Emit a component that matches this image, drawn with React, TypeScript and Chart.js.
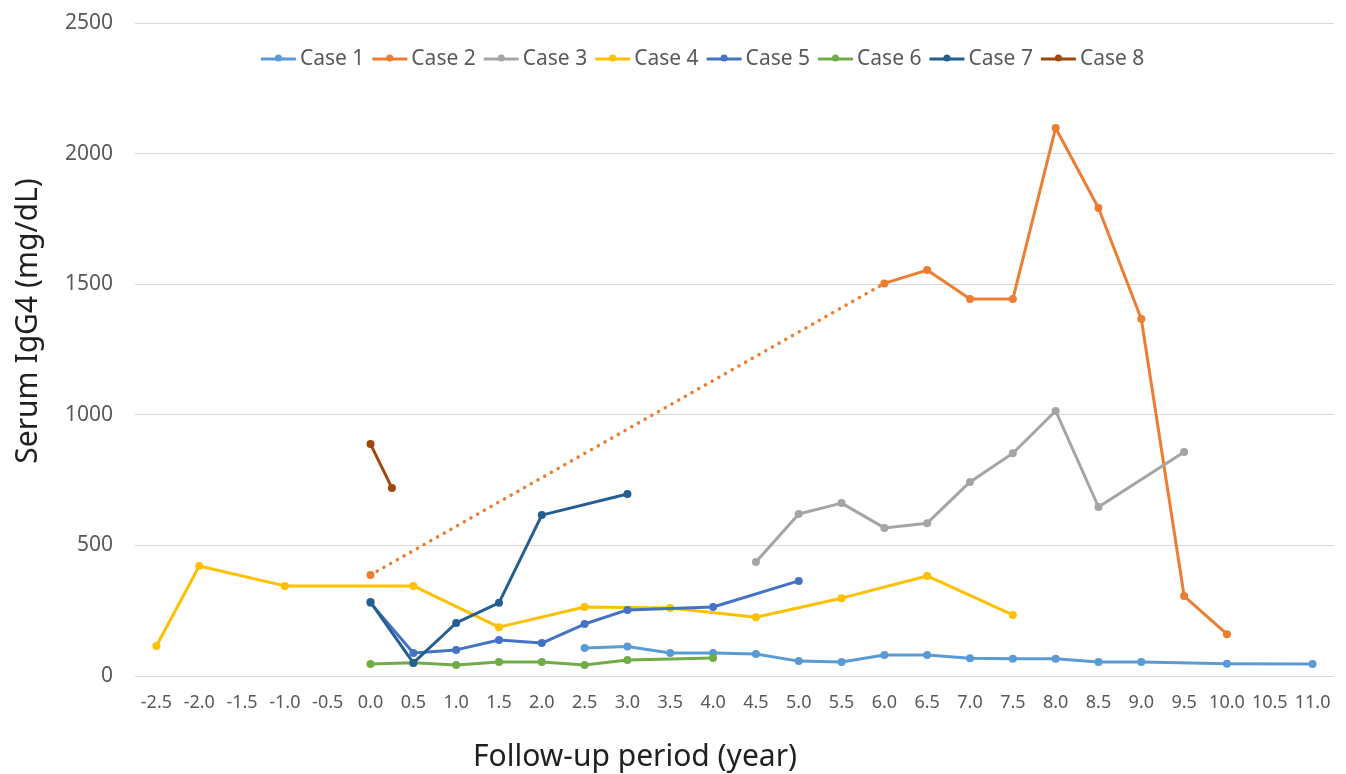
import React, { useEffect, useRef } from "react";
import { Chart, registerables } from "chart.js";

Chart.register(...registerables);

const years: number[] = [
  -2.5, -2.0, -1.5, -1.0, -0.5, 0.0, 0.5, 1.0, 1.5, 2.0, 2.5, 3.0, 3.5, 4.0,
  4.5, 5.0, 5.5, 6.0, 6.5, 7.0, 7.5, 8.0, 8.5, 9.0, 9.5, 10.0, 10.5, 11.0,
];

type V = number | null;
//                     -2.5 -2.0 -1.5 -1.0 -0.5  0.0  0.5  1.0  1.5  2.0  2.5  3.0  3.5  4.0  4.5  5.0  5.5  6.0  6.5  7.0  7.5  8.0  8.5  9.0  9.5 10.0 10.5 11.0
const case1: V[] = [null, null, null, null, null, null, null, null, null, null, 107, 113, 88, 88, 84, 57, 54, 80, 80, 68, 66, 66, 54, 54, null, 47, null, 46];
const case2: V[] = [null, null, null, null, null, 387, null, null, null, null, null, null, null, null, null, null, null, 1503, 1554, 1443, 1443, 2098, 1792, 1367, 306, 160, null, null];
const case3: V[] = [null, null, null, null, null, null, null, null, null, null, null, null, null, null, 436, 620, 662, 567, 585, 743, 853, 1015, 647, null, 858, null, null, null];
const case4: V[] = [115, 421, null, 345, null, null, 345, null, 187, null, 264, null, 260, null, 225, null, 298, null, 383, null, 234, null, null, null, null, null, null, null];
const case5: V[] = [null, null, null, null, null, 280, 88, 100, 138, 126, 199, 253, null, 264, null, 364, null, null, null, null, null, null, null, null, null, null, null, null];
const case6: V[] = [null, null, null, null, null, 46, 51, 42, 54, 54, 42, 61, null, 69, null, null, null, null, null, null, null, null, null, null, null, null, null, null];
const case7: V[] = [null, null, null, null, null, 283, 50, 203, 280, 616, null, 697, null, null, null, null, null, null, null, null, null, null, null, null, null, null, null, null];
const case8Years: number[] = [0.0, 0.25];
const case8: number[] = [888, 720];

const caseLabels = ["Case 1", "Case 2", "Case 3", "Case 4", "Case 5", "Case 6", "Case 7", "Case 8"];
const caseColors = ["#5B9BD5", "#ED7D31", "#A5A5A5", "#FFC000", "#4472C4", "#70AD47", "#255E91", "#9E480E"];

const yTicks: number[] = [0, 500, 1000, 1500, 2000, 2500];

const xTitle = "Follow-up period (year)";
const yTitle = "Serum IgG4 (mg/dL)";

const toPoints = (xs: number[], ys: V[]) =>
  xs.map((x, i) => ({ x, y: ys[i] })).filter((p) => p.y !== null) as { x: number; y: number }[];

const decorPlugin = {
  id: "decor",
  afterDraw(chart: any) {
    const ctx: CanvasRenderingContext2D = chart.ctx;
    const area = chart.chartArea;
    ctx.save();
    // legend
    ctx.font = '21px "Noto Sans"';
    ctx.textBaseline = "middle";
    ctx.textAlign = "left";
    const lineW = 35;
    const gap1 = 4;
    const gap2 = 8;
    const ds = chart.data.datasets;
    const widths = ds.map((d: any) => ctx.measureText(d.label).width);
    const total = widths.reduce((s: number, w: number) => s + lineW + gap1 + w + gap2, 0) - gap2;
    const cx = area.left + area.width * 0.4734;
    const cy = area.top + 36;
    let x = cx - total / 2;
    ds.forEach((d: any, i: number) => {
      ctx.strokeStyle = d.borderColor;
      ctx.lineWidth = 3;
      ctx.beginPath();
      ctx.moveTo(x, cy);
      ctx.lineTo(x + lineW, cy);
      ctx.stroke();
      ctx.fillStyle = d.borderColor;
      ctx.beginPath();
      ctx.arc(x + lineW / 2, cy - 1, 3.5, 0, Math.PI * 2);
      ctx.fill();
      ctx.fillStyle = "#595959";
      ctx.fillText(d.label, x + lineW + gap1, cy);
      x += lineW + gap1 + widths[i] + gap2;
    });
    // axis titles
    ctx.fillStyle = "#231F20";
    ctx.font = '30px "Noto Sans"';
    ctx.textAlign = "center";
    ctx.textBaseline = "alphabetic";
    ctx.fillText(xTitle, 627, chart.height - 8);
    ctx.translate(29, 313);
    ctx.rotate(-Math.PI / 2);
    ctx.fillText(yTitle, 0, 0);
    ctx.restore();
  },
};

export default function App() {
  const ref = useRef<HTMLCanvasElement | null>(null);
  useEffect(() => {
    if (!ref.current) return;
    const series = [case1, case2, case3, case4, case5, case6, case7];
    const datasets: any[] = series.map((vals, i) => ({
      label: caseLabels[i],
      data: toPoints(years, vals),
      borderColor: caseColors[i],
      backgroundColor: caseColors[i],
      borderWidth: 3,
      pointRadius: 4,
      pointBorderWidth: 0,
      pointBackgroundColor: caseColors[i],
      borderJoinStyle: "round",
      order: 20 - i,
      segment:
        i === 1
          ? {
              borderDash: (c: any) => (c.p1.x - c.p0.x > 60 ? [0.1, 7.6] : undefined),
              borderCapStyle: (c: any) => (c.p1.x - c.p0.x > 60 ? "round" : undefined),
              borderWidth: (c: any) => (c.p1.x - c.p0.x > 60 ? 3.5 : undefined),
            }
          : undefined,
    }));
    datasets.push({
      label: caseLabels[7],
      data: toPoints(case8Years, case8),
      borderColor: caseColors[7],
      backgroundColor: caseColors[7],
      borderWidth: 3,
      pointRadius: 4,
      pointBorderWidth: 0,
      pointBackgroundColor: caseColors[7],
      order: 10,
    });
    const chart = new Chart(ref.current, {
      type: "line",
      data: { datasets },
      plugins: [decorPlugin],
      options: {
        animation: false,
        responsive: true,
        maintainAspectRatio: false,
        events: [],
        layout: { padding: { top: 15, left: 0, right: 0, bottom: 0 } },
        plugins: { legend: { display: false }, tooltip: { enabled: false } },
        scales: {
          x: {
            type: "linear",
            min: -2.75,
            max: 11.25,
            afterBuildTicks: (scale: any) => {
              scale.ticks = years.map((v) => ({ value: v }));
            },
            afterFit: (scale: any) => {
              scale.height = 98;
              scale.paddingLeft = 0;
              scale.paddingRight = 0;
            },
            grid: { display: false, drawTicks: false },
            border: { display: false },
            ticks: {
              autoSkip: false,
              maxRotation: 0,
              padding: 16,
              color: "#595959",
              font: { family: "Noto Sans", size: 18 },
              callback: (v: any) => Number(v).toFixed(1),
            },
          },
          y: {
            min: 0,
            max: 2500,
            afterBuildTicks: (scale: any) => {
              scale.ticks = yTicks.map((v) => ({ value: v }));
            },
            afterFit: (scale: any) => {
              scale.width = 127;
              scale.paddingTop = 0;
              scale.paddingBottom = 0;
            },
            grid: { color: "#D9D9D9", lineWidth: 1, drawTicks: false },
            border: { display: false },
            ticks: {
              padding: 22,
              color: "#595959",
              font: { family: "Noto Sans", size: 21 },
              callback: (v: any) => String(v),
            },
          },
        },
      },
    });
    return () => chart.destroy();
  }, []);
  return (
    <div style={{ position: "relative", width: "1330px", height: "766px" }}>
      <canvas ref={ref} />
    </div>
  );
}
